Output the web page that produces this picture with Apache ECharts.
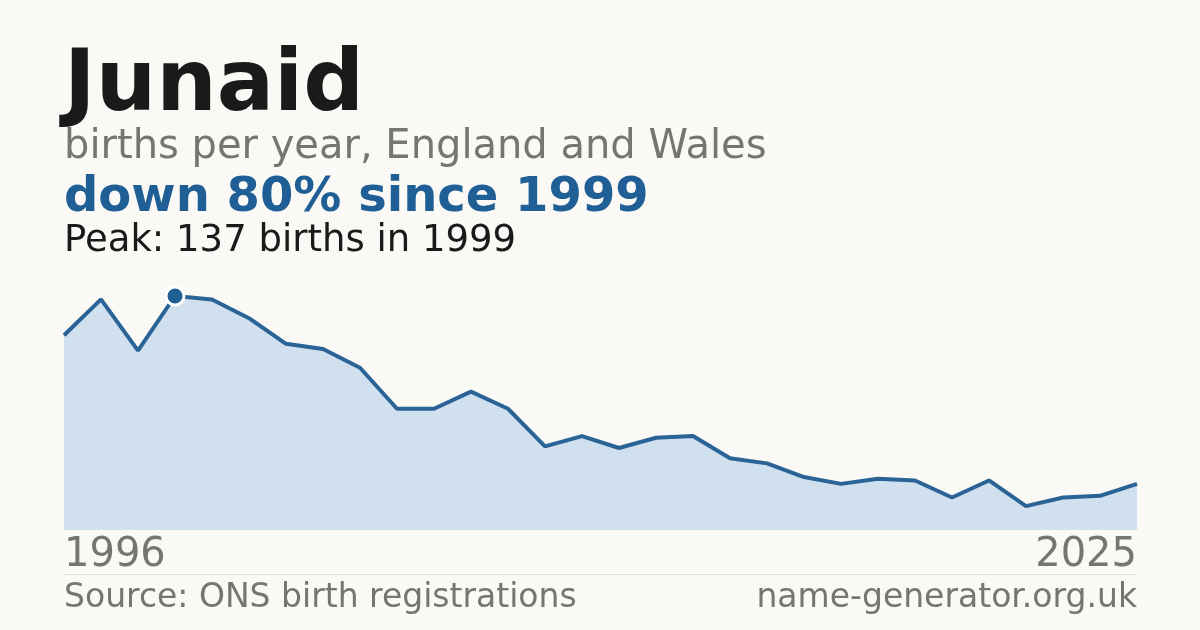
<!DOCTYPE html>
<html><head><meta charset="utf-8">
<script src="https://cdn.jsdelivr.net/npm/echarts@6/dist/echarts.min.js"></script>
<style>html,body{margin:0;padding:0;background:#faf9f5}#c{width:1200px;height:630px}</style>
</head><body><div id="c"></div>
<script>
const years = [1996,1997,1998,1999,2000,2001,2002,2003,2004,2005,2006,2007,2008,2009,2010,2011,2012,2013,2014,2015,2016,2017,2018,2019,2020,2021,2022,2023,2024,2025];
const births = [114,135,105,137,135,124,109,106,95,71,71,81,71,49,55,48,54,55,42,39,31,27,30,29,19,29,14,19,20,27];
const peakYear = 1999, peakValue = 137;
const chart = echarts.init(document.getElementById('c'));
chart.setOption({
  backgroundColor:'#faf9f5',
  animation:false,
  grid:{left:64,right:63,top:296,bottom:100},
  xAxis:{type:'category',data:years.map(String),boundaryGap:false,show:false},
  yAxis:{type:'value',min:0,max:peakValue,show:false},
  series:[{
    type:'line',data:births,
    lineStyle:{color:'#2a6496',width:4},
    areaStyle:{color:'#d0e0ef',opacity:1},
    symbol:'circle',symbolSize:(v,p)=>years[p.dataIndex]===peakYear?18:0,
    showSymbol:true,
    itemStyle:{color:'#1f5f96',borderColor:'#ffffff',borderWidth:3}
  }],
  graphic:[
    {type:'text',left:64,top:45,style:{text:'Junaid',font:'bold 85px "DejaVu Sans"',fill:'#1a1a1a'}},
    {type:'text',left:64,top:128,style:{text:'births per year, England and Wales',font:'40px "DejaVu Sans"',fill:'#777570'}},
    {type:'text',left:64,top:175,style:{text:'down 80% since 1999',font:'bold 48px "DejaVu Sans"',fill:'#1f5f96'}},
    {type:'text',left:64,top:223,style:{text:'Peak: 137 births in 1999',font:'37px "DejaVu Sans"',fill:'#1a1a1a'}},
    {type:'text',left:64,top:536,style:{text:String(years[0]),font:'40px "DejaVu Sans"',fill:'#777570'}},
    {type:'text',right:63,top:536,style:{text:String(years[years.length-1]),font:'40px "DejaVu Sans"',fill:'#777570'}},
    {type:'line',shape:{x1:64,y1:574.5,x2:1137,y2:574.5},style:{stroke:'#e0ddd6',lineWidth:1}},
    {type:'text',left:64,top:582,style:{text:'Source: ONS birth registrations',font:'33px "DejaVu Sans"',fill:'#777570'}},
    {type:'text',right:63,top:582,style:{text:'name-generator.org.uk',font:'33px "DejaVu Sans"',fill:'#777570'}}
  ]
});
</script></body></html>
